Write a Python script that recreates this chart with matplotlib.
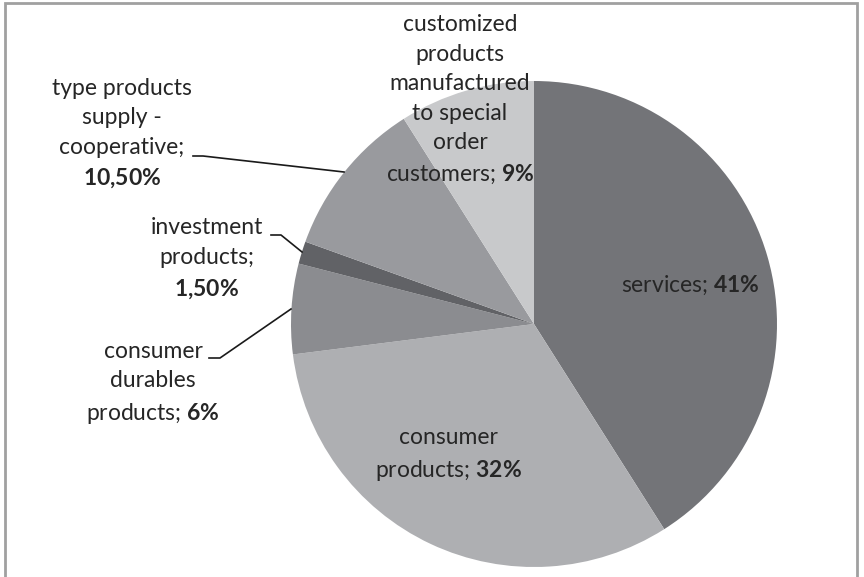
import matplotlib
matplotlib.use("Agg")
import matplotlib.pyplot as plt
from matplotlib.patches import Rectangle

plt.rcParams['font.family'] = ['Lato', 'DejaVu Sans']
plt.rcParams['mathtext.fontset'] = 'custom'
plt.rcParams['mathtext.rm'] = 'Lato'
plt.rcParams['mathtext.bf'] = 'Lato:bold'

categories = ["services", "consumer products", "consumer durables products",
              "investment products", "type products supply - cooperative",
              "customized products manufactured to special order customers"]
values = [41, 32, 6, 1.5, 10.5, 9]
value_labels = ["41%", "32%", "6%", "1,50%", "10,50%", "9%"]
label_texts = [
    "services; $\\mathbf{41\\%}$",
    "consumer\nproducts; $\\mathbf{32\\%}$",
    "consumer\ndurables\nproducts; $\\mathbf{6\\%}$",
    "investment\nproducts;\n$\\mathbf{1{,}50\\%}$",
    "type products\nsupply -\ncooperative;\n$\\mathbf{10{,}50\\%}$",
    "customized\nproducts\nmanufactured\nto special\norder\ncustomers; $\\mathbf{9\\%}$",
]
colors = ["#737478", "#aeafb2", "#8b8c90", "#616266", "#999a9e", "#c8c9cb"]

W, H = 864, 577
fig = plt.figure(figsize=(W / 100, H / 100), dpi=100)
fig.patch.set_facecolor("white")

# figure border
fig.add_artist(Rectangle((5 / W, -0.05), (857 - 5) / W, 1.05 - 3 / H,
                         transform=fig.transFigure, fill=False,
                         edgecolor="#a0a0a0", linewidth=2))

cx, cy, r = 534, 324, 243
ax = fig.add_axes([(cx - r) / W, (H - cy - r) / H, 2 * r / W, 2 * r / H])
ax.pie(values, colors=colors, startangle=90, counterclock=False,
       wedgeprops=dict(linewidth=0))
ax.set_xlim(-1, 1)
ax.set_ylim(-1, 1)
ax.set_aspect("equal")
ax.axis("off")

def px(x, y):
    return ((x - cx) / r, (cy - y) / r)

# label centers in pixel coords
label_pos = [(690, 285), (448, 455), (153, 383), (207, 259), (122, 134), (460, 100)]
txtcolor = "#262626"
for txt, (x, y) in zip(label_texts, label_pos):
    tx, ty = px(x, y)
    ax.text(tx, ty, txt, ha="center", va="center", fontsize=16.5,
            color=txtcolor, linespacing=1.5, clip_on=False)

# leader lines (pixel coords)
leaders = [
    [(193, 156), (203, 156), (344, 172)],
    [(271, 235), (281, 235), (302, 252)],
    [(209, 358), (220, 358), (291, 309)],
]
for pts in leaders:
    xs, ys = zip(*[px(*p) for p in pts])
    ax.plot(xs, ys, color="#1a1a1a", linewidth=1.2, clip_on=False)

fig.savefig("out.png", dpi=100)
